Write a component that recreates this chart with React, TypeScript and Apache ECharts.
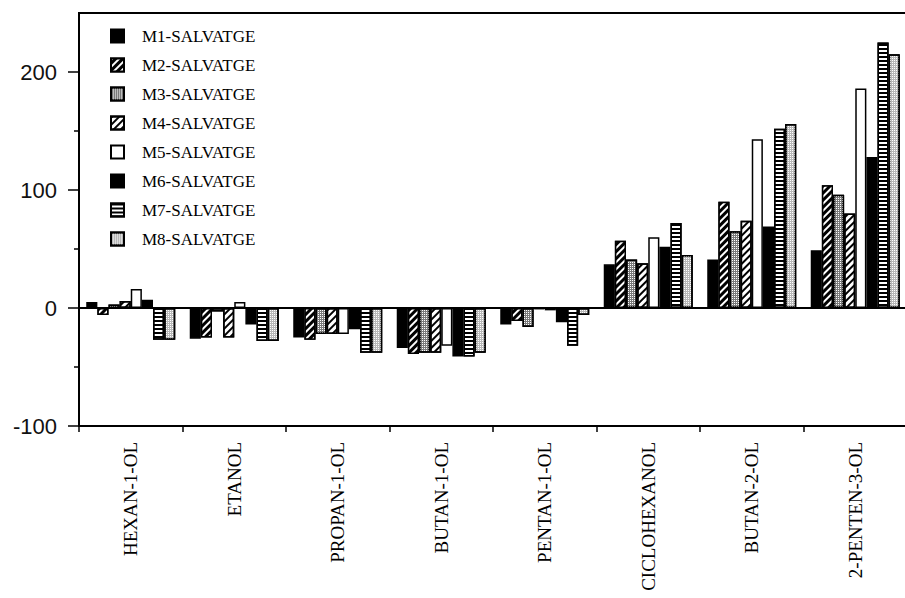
import React, { useEffect, useRef } from "react";
import * as echarts from "echarts";

const categories = [
  "HEXAN-1-OL",
  "ETANOL",
  "PROPAN-1-OL",
  "BUTAN-1-OL",
  "PENTAN-1-OL",
  "CICLOHEXANOL",
  "BUTAN-2-OL",
  "2-PENTEN-3-OL",
];

const seriesNames = [
  "M1-SALVATGE",
  "M2-SALVATGE",
  "M3-SALVATGE",
  "M4-SALVATGE",
  "M5-SALVATGE",
  "M6-SALVATGE",
  "M7-SALVATGE",
  "M8-SALVATGE",
];

const m1 = [5, -26, -25, -34, -14, 37, 41, 49];
const m2 = [-6, -25, -27, -39, -11, 57, 90, 104];
const m3 = [3, -3, -22, -38, -16, 41, 65, 96];
const m4 = [6, -25, -22, -38, -1, 38, 74, 80];
const m5 = [16, 5, -22, -32, -2, 60, 143, 186];
const m6 = [7, -14, -18, -41, -12, 52, 69, 128];
const m7 = [-27, -28, -38, -41, -32, 72, 152, 225];
const m8 = [-27, -28, -38, -38, -6, 45, 156, 215];

const seriesValues = [m1, m2, m3, m4, m5, m6, m7, m8];

const yMin = -100;
const yMax = 250;
const majorTicks = [-100, 0, 100, 200];
const minorTicks = [-50, 50, 150];

const stripesDiag = (color: string) => ({
  symbol: "rect",
  symbolSize: 1,
  color,
  dashArrayX: [1, 0],
  dashArrayY: [2, 3],
  rotation: -Math.PI / 4,
});
const stripesHoriz = (color: string) => ({
  symbol: "rect",
  symbolSize: 1,
  color,
  dashArrayX: [1, 0],
  dashArrayY: [2, 2],
  rotation: 0,
});
const dots = (color: string) => ({
  symbol: "rect",
  symbolSize: 1,
  color,
  dashArrayX: [1, 1],
  dashArrayY: [1, 1],
  rotation: 0,
});

const styles: any[] = [
  { color: "#000000" },
  { color: "#000000", decal: stripesDiag("#ffffff") },
  { color: "#7a7a7a", decal: dots("#ffffff") },
  { color: "#ffffff", decal: stripesDiag("#000000") },
  { color: "#ffffff" },
  { color: "#000000" },
  { color: "#ffffff", decal: stripesHoriz("#000000") },
  { color: "#b8b8b8", decal: dots("#ffffff") },
];

export default function App() {
  const ref = useRef<HTMLDivElement>(null);
  useEffect(() => {
    if (!ref.current) return;
    const chart = echarts.init(ref.current, undefined, { renderer: "svg" });
    const series: any[] = seriesNames.map((name, i) => ({
      name,
      type: "bar",
      yAxisIndex: 0,
      data: seriesValues[i],
      barGap: "0%",
      barCategoryGap: "14%",
      itemStyle: {
        ...styles[i],
        borderColor: "#000",
        borderWidth: 1.5,
      },
      ...(i === 0
        ? {
            markLine: {
              silent: true,
              symbol: "none",
              label: { show: false },
              lineStyle: { color: "#000", width: 2, type: "solid" },
              data: [{ yAxis: 0 }],
              z: 10,
            },
          }
        : {}),
    }));
    chart.setOption({
      animation: false,
      backgroundColor: "#ffffff",
      grid: {
        left: 79,
        right: -2,
        top: 13,
        bottom: 172,
        show: true,
        borderColor: "#000",
        borderWidth: 2,
        backgroundColor: "transparent",
        outerBoundsMode: "none",
        containLabel: false,
      },
      legend: {
        orient: "vertical",
        left: 105,
        top: 22,
        itemWidth: 13,
        itemHeight: 13,
        itemGap: 11,
        icon: "rect",
        data: seriesNames,
        textStyle: {
          fontFamily: "Liberation Serif",
          fontSize: 17,
          lineHeight: 18,
          color: "#000",
          padding: [0, 0, 0, 13],
        },
      },
      xAxis: {
        type: "category",
        data: categories,
        axisLine: { show: true, onZero: false, lineStyle: { color: "#000", width: 2 } },
        axisTick: { show: true, alignWithLabel: false, length: 6, lineStyle: { color: "#000", width: 1.5 } },
        axisLabel: {
          rotate: 90,
          margin: 16,
          interval: 0,
          fontFamily: "Liberation Serif",
          fontSize: 19,
          color: "#000",
        },
      },
      yAxis: [
        {
          type: "value",
          min: yMin,
          max: yMax,
          position: "left",
          splitLine: { show: false },
          axisLine: { show: true, lineStyle: { color: "#000", width: 2 } },
          axisTick: {
            show: true,
            length: 11,
            customValues: majorTicks,
            lineStyle: { color: "#000", width: 1.5 },
          },
          axisLabel: {
            customValues: majorTicks,
            margin: 22,
            fontFamily: "Liberation Sans",
            fontSize: 22,
            color: "#111",
          },
        },
        {
          type: "value",
          min: yMin,
          max: yMax,
          position: "left",
          splitLine: { show: false },
          axisLine: { show: false },
          axisTick: {
            show: true,
            length: 5,
            customValues: minorTicks,
            lineStyle: { color: "#000", width: 1.5 },
          },
          axisLabel: { show: false },
        },
      ],
      series,
    });
    return () => chart.dispose();
  }, []);
  return (
    <div
      ref={ref}
      style={{ position: "absolute", left: 0, top: 0, width: 905, height: 598 }}
    />
  );
}
